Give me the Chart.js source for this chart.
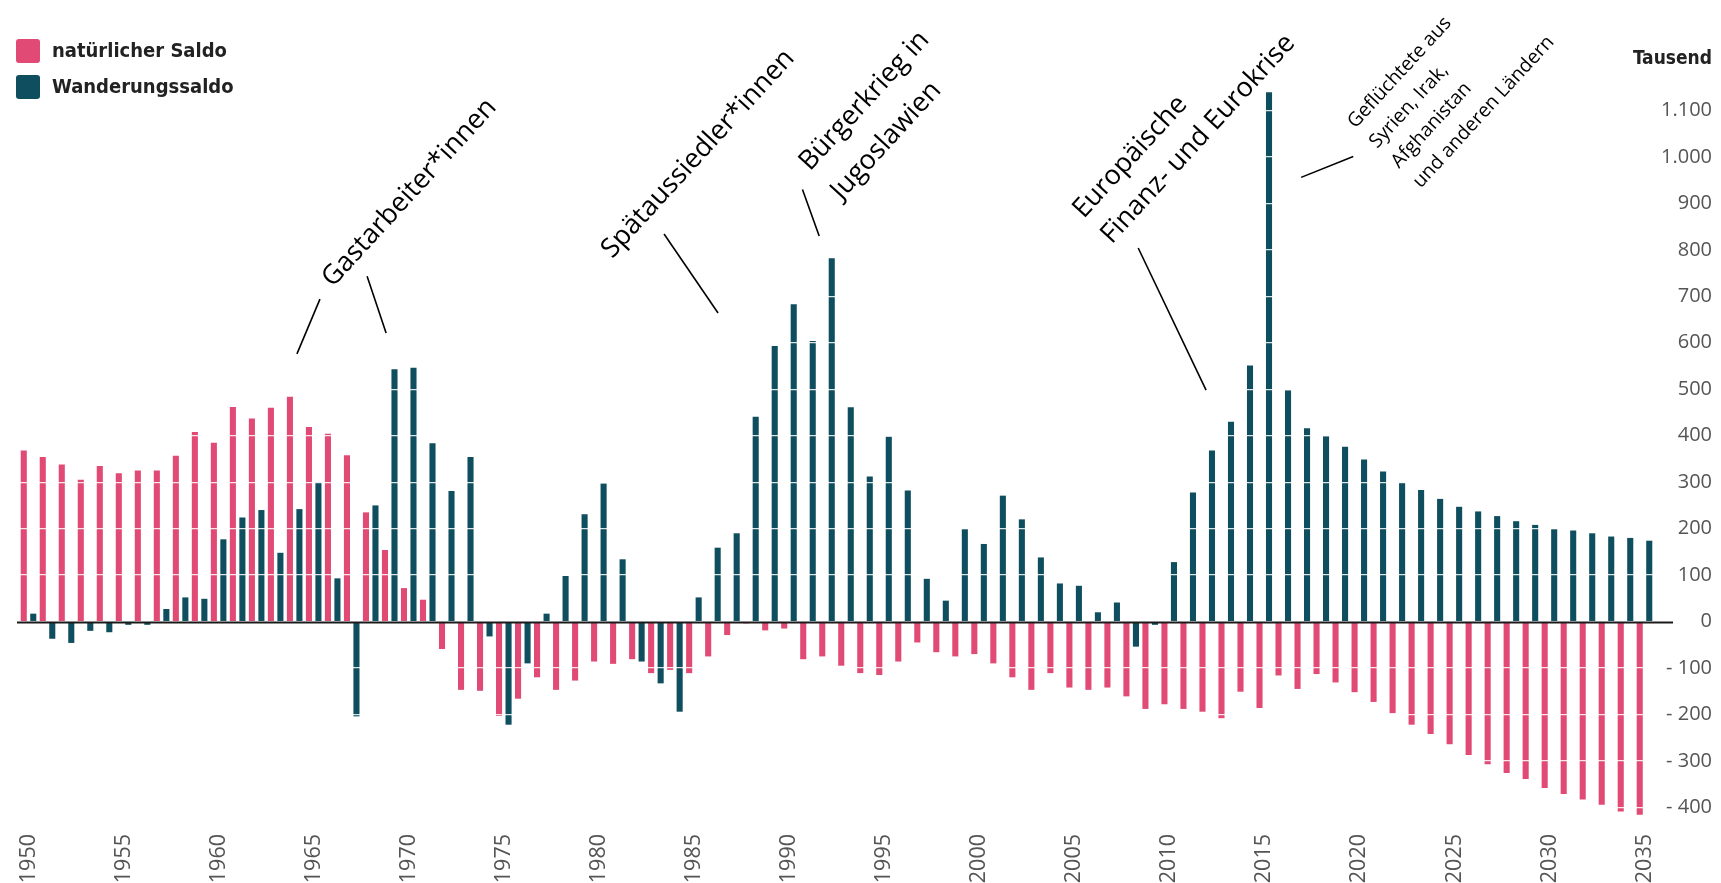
<!DOCTYPE html>
<html lang="de">
<head>
<meta charset="utf-8">
<title>Natürlicher Saldo und Wanderungssaldo</title>
<script src="https://cdn.jsdelivr.net/npm/chart.js@4.4.1/dist/chart.umd.min.js"></script>
<style>
  html, body { margin: 0; padding: 0; background: #fff; }
</style>
</head>
<body>
<canvas id="saldoChart" width="1721" height="883"></canvas>
<script>
// Jahre 1950 - 2035
const jahre = Array.from({ length: 86 }, (_, i) => String(1950 + i));

// Tausend Personen
const natuerlicherSaldo = [
  368, 354, 338, 305, 335, 319, 325, 325, 357, 408,
  385, 462, 437, 460, 484, 419, 404, 358, 235, 154,
  72, 47, -59, -147, -149, -203, -166, -120, -147, -127,
  -86, -91, -81, -111, -104, -111, -75, -29, -4, -19,
  -15, -81, -75, -95, -111, -115, -86, -45, -66, -75,
  -70, -90, -120, -147, -111, -142, -147, -142, -161, -188,
  -178, -188, -194, -208, -151, -186, -116, -145, -113, -131,
  -152, -173, -197, -222, -242, -264, -287, -307, -326, -339,
  -358, -371, -383, -394, -409, -416
];

const wanderungssaldo = [
  17, -37, -46, -20, -23, -7, -7, 27, 52, 49,
  177, 224, 240, 148, 242, 300, 93, -204, 250, 543,
  546, 384, 281, 354, -32, -222, -90, 17, 98, 231,
  297, 134, -86, -133, -194, 52, 159, 190, 441, 593,
  683, 604, 782, 461, 312, 398, 282, 92, 45, 199,
  167, 271, 220, 138, 82, 77, 20, 41, -54, -7,
  128, 278, 368, 430, 551, 1139, 498, 416, 399, 376,
  349, 323, 299, 283, 264, 247, 237, 227, 216, 208,
  199, 196, 190, 183, 180, 174
];

const yTicks = [-400, -300, -200, -100, 0, 100, 200, 300, 400, 500, 600, 700, 800, 900, 1000, 1100];
const xLabelJahre = ["1950", "1955", "1960", "1965", "1970", "1975", "1980", "1985", "1990",
  "1995", "2000", "2005", "2010", "2015", "2020", "2025", "2030", "2035"];

const PINK = "#e04a74";
const TEAL = "#0f4e5e";

// Anmerkungen: x = Jahresindex (0 = 1950), y = Wert in Tausend
const anmerkungen = [
  { lines: ["Gastarbeiter*innen"], x: 16.0, y: 718, size: 27, lh: 0 },
  { lines: ["Spätaussiedler*innen"], x: 30.7, y: 780, size: 27, lh: 0 },
  { lines: ["Bürgerkrieg in", "Jugoslawien"], x: 41.1, y: 968, size: 27, lh: 43 },
  { lines: ["Europäische", "Finanz- und Eurokrise"], x: 55.5, y: 866, size: 27, lh: 38 },
  { lines: ["Geflüchtete aus", "Syrien, Irak,", "Afghanistan", "und anderen Ländern"], x: 69.8, y: 1060, size: 19.5, lh: 29.5 }
];

const hinweisLinien = [
  [15.33, 694, 14.12, 576],
  [17.81, 743, 18.81, 621],
  [33.43, 834, 36.27, 664],
  [40.71, 930, 41.59, 830],
  [58.37, 804, 61.94, 498],
  [69.68, 1001, 66.94, 956]
];

function fmt(v) {
  if (v < 0) return "- " + Math.abs(v);
  return String(v).replace(/\B(?=(\d{3})+(?!\d))/g, ".");
}

const tickFont = { family: "'Open Sans'", size: 20 };
const measure = document.createElement("canvas").getContext("2d");
measure.font = "20px 'Open Sans'";
const widest = Math.max(...yTicks.map(v => measure.measureText(fmt(v)).width));
const Y_AXIS_WIDTH = 58;

const extras = {
  id: "extras",
  afterDraw(chart) {
    const { ctx, chartArea, scales } = chart;
    const x = scales.x, y = scales.y;
    ctx.save();

    // Nulllinie
    const y0 = Math.round(y.getPixelForValue(0)) + 0.5;
    ctx.strokeStyle = "#1a1a1a";
    ctx.lineWidth = 2;
    ctx.beginPath();
    ctx.moveTo(chartArea.left - 2, y0);
    ctx.lineTo(chartArea.right + 19, y0);
    ctx.stroke();

    // Legende
    const eintraege = [["natürlicher Saldo", PINK, 51], ["Wanderungssaldo", TEAL, 87]];
    ctx.font = "bold 20px 'DejaVu Sans Condensed', 'Liberation Sans Narrow', sans-serif";
    ctx.textBaseline = "middle";
    ctx.textAlign = "left";
    eintraege.forEach(([txt, col, cy]) => {
      ctx.fillStyle = col;
      ctx.beginPath();
      ctx.roundRect(16, cy - 12, 24, 24, 3);
      ctx.fill();
      ctx.fillStyle = "#222";
      ctx.fillText(txt, 52, cy + 1);
    });

    // Einheit
    ctx.textAlign = "right";
    ctx.font = "bold 19px 'DejaVu Sans Condensed', 'Liberation Sans Narrow', sans-serif";
    ctx.fillText("Tausend", 1712, 59);

    // Hinweislinien
    ctx.strokeStyle = "#000";
    ctx.lineWidth = 1.6;
    hinweisLinien.forEach(([x1, v1, x2, v2]) => {
      ctx.beginPath();
      ctx.moveTo(x.getPixelForValue(x1), y.getPixelForValue(v1));
      ctx.lineTo(x.getPixelForValue(x2), y.getPixelForValue(v2));
      ctx.stroke();
    });

    // Texte
    ctx.fillStyle = "#000";
    ctx.textAlign = "left";
    ctx.textBaseline = "alphabetic";
    anmerkungen.forEach(a => {
      ctx.save();
      ctx.translate(x.getPixelForValue(a.x), y.getPixelForValue(a.y));
      ctx.rotate(-47.5 * Math.PI / 180);
      ctx.font = a.size + "px 'Open Sans'";
      a.lines.forEach((t, i) => ctx.fillText(t, 0, i * a.lh));
      ctx.restore();
    });

    ctx.restore();
  }
};

new Chart(document.getElementById("saldoChart"), {
  type: "bar",
  data: {
    labels: jahre,
    datasets: [
      { label: "natürlicher Saldo", data: natuerlicherSaldo, backgroundColor: PINK },
      { label: "Wanderungssaldo", data: wanderungssaldo, backgroundColor: TEAL }
    ]
  },
  options: {
    responsive: false,
    animation: false,
    devicePixelRatio: 1,
    layout: { padding: { top: 64, left: 19, right: 9, bottom: 0 } },
    datasets: { bar: { categoryPercentage: 1, barPercentage: 0.64 } },
    plugins: {
      legend: { display: false },
      tooltip: { enabled: false }
    },
    scales: {
      x: {
        grid: { display: false },
        border: { display: false },
        ticks: {
          autoSkip: false,
          minRotation: 90,
          maxRotation: 90,
          padding: 0,
          color: "#555",
          font: { family: "'Open Sans'", size: 21.5 },
          callback(val) {
            const j = this.getLabelForValue(val);
            return xLabelJahre.includes(j) ? j : "";
          }
        },
        afterFit(scale) { scale.height = 57; }
      },
      y: {
        position: "right",
        min: -440,
        max: 1200,
        grid: { color: "rgba(255,255,255,0.85)", lineWidth: 1.2, drawTicks: false, z: 1 },
        border: { display: false },
        ticks: {
          crossAlign: "far",
          padding: Y_AXIS_WIDTH - widest,
          color: "#555",
          font: tickFont,
          callback: v => fmt(v)
        },
        afterBuildTicks(scale) { scale.ticks = yTicks.map(v => ({ value: v })); },
        afterFit(scale) { scale.width = Y_AXIS_WIDTH; }
      }
    }
  },
  plugins: [extras]
});
</script>
</body>
</html>
